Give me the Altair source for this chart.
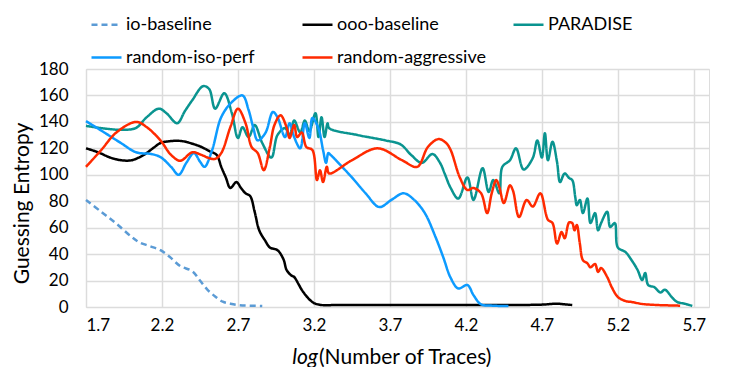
import altair as alt
import pandas as pd

series_names = ["io-baseline", "ooo-baseline", "PARADISE", "random-iso-perf", "random-aggressive"]
series_colors = ["#5b9bd5", "#000000", "#0a9490", "#0d9bff", "#ff2a00"]

io_x = [1.70, 1.80, 1.90, 2.00, 2.05, 2.12, 2.19, 2.25, 2.32, 2.40, 2.45, 2.50, 2.55, 2.60, 2.65, 2.71, 2.78, 2.86]
io_y = [81, 72, 63, 53, 49, 46, 43, 38, 31, 27, 20, 13, 8, 4, 2.5, 1.3, 1, 0.8]

ooo_x = [1.70, 1.78, 1.86, 1.93, 2.00, 2.08, 2.14, 2.19, 2.26, 2.33, 2.40, 2.46, 2.51, 2.56, 2.59, 2.62, 2.65,
         2.69, 2.72, 2.75, 2.78, 2.81, 2.84, 2.88, 2.91, 2.96, 3.00, 3.02, 3.05, 3.07, 3.10, 3.12, 3.16, 3.20,
         3.25, 3.35, 3.60, 3.90, 4.20, 4.50, 4.70, 4.80, 4.85, 4.90]
ooo_y = [120, 117, 113, 111, 111, 115, 120, 124, 125.5, 125.5, 123.5, 121, 118, 115, 106, 98, 90,
         94.5, 90, 86, 84, 72, 58, 50, 45, 43, 36, 28, 24, 22.7, 17, 13, 7, 3,
         1.5, 1.5, 1.5, 1.5, 1.5, 1.5, 1.8, 2.5, 2, 1.5]

par_x = [1.70, 1.82, 1.95, 2.03, 2.10, 2.18, 2.23, 2.30, 2.35, 2.40, 2.47, 2.51, 2.55, 2.61, 2.66, 2.70, 2.73,
         2.77, 2.81, 2.86, 2.92, 2.96, 3.01, 3.04, 3.07, 3.11, 3.14, 3.17, 3.21, 3.23, 3.25, 3.27, 3.29, 3.30,
         3.49, 3.67, 3.77, 3.84, 3.91, 3.98, 4.03, 4.06, 4.10, 4.15, 4.21, 4.25, 4.31, 4.35, 4.38, 4.42, 4.44,
         4.49, 4.53, 4.58, 4.64, 4.67, 4.70, 4.72, 4.74, 4.77, 4.80, 4.82, 4.85, 4.88, 4.90, 4.92, 4.93, 4.95,
         4.97, 5.00, 5.02, 5.05, 5.07, 5.09, 5.13, 5.15, 5.18, 5.20, 5.25, 5.29, 5.33, 5.36, 5.38, 5.40, 5.44,
         5.48, 5.51, 5.56, 5.59, 5.64, 5.69]
par_y = [137, 135, 134, 135.5, 143.6, 150, 146.5, 139, 148, 156.5, 167, 165, 150, 161.7, 146.6, 127.8, 136,
         128.5, 137.6, 124, 113, 130, 135.3, 130, 141, 132, 141, 133, 146.6, 128.5, 143.6, 128.5, 139, 135.3,
         130, 126, 123, 115, 109, 115.7, 109, 101, 90, 82, 98, 81, 105, 87, 96, 86, 106,
         111, 120, 104, 112.6, 126, 113, 131.5, 111, 125, 109.6, 94.5, 101, 97.5, 96, 83, 77, 81,
         71, 82, 63.5, 71, 58, 63.5, 72, 60.5, 63.5, 45, 41.6, 35.5, 28, 20.4, 25.7, 16.6, 15,
         11, 13, 6.8, 3.8, 2.5, 0.8]

iso_x = [1.70, 1.82, 1.93, 2.03, 2.13, 2.19, 2.26, 2.31, 2.36, 2.41, 2.45, 2.48, 2.53, 2.59, 2.66, 2.73, 2.77,
         2.80, 2.83, 2.88, 2.93, 2.96, 3.01, 3.04, 3.07, 3.11, 3.14, 3.17, 3.19, 3.23, 3.26, 3.28, 3.295, 3.31,
         3.45, 3.54, 3.63, 3.71, 3.79, 3.86, 3.93, 4.00, 4.05, 4.10, 4.15, 4.21, 4.25, 4.30, 4.38, 4.48]
iso_y = [140.6, 132, 124, 117, 115.7, 113.4, 106, 100, 109, 116.4, 110, 106, 118.7, 143.6, 155, 160, 149,
         136, 126, 131.5, 147.5, 143.6, 128.5, 139, 128.5, 120, 139, 127.8, 143, 135, 118.7, 109, 116.4, 115,
         98, 86, 75.6, 81, 86, 81, 71, 53, 38, 22, 14, 16.6, 9, 2, 1, 0.7]

agg_x = [1.70, 1.80, 1.90, 2.03, 2.10, 2.19, 2.26, 2.32, 2.40, 2.46, 2.51, 2.55, 2.59, 2.65, 2.70, 2.75, 2.79,
         2.83, 2.87, 2.91, 2.94, 2.98, 3.02, 3.04, 3.07, 3.09, 3.12, 3.15, 3.19, 3.22, 3.24, 3.26, 3.285, 3.30,
         3.45, 3.62, 3.78, 3.88, 3.95, 4.02, 4.07, 4.10, 4.16, 4.21, 4.25, 4.30, 4.34, 4.37, 4.40, 4.42, 4.45,
         4.49, 4.51, 4.55, 4.60, 4.64, 4.69, 4.74, 4.77, 4.80, 4.83, 4.85, 4.88, 4.90, 4.915, 4.93, 4.95,
         4.97, 5.00, 5.02, 5.05, 5.07, 5.09, 5.13, 5.16, 5.20, 5.25, 5.29, 5.36, 5.46, 5.61]
agg_y = [106, 118.7, 132, 140, 136, 126, 115, 110.6, 117, 115, 112.6, 112, 116.4, 136, 150, 139, 121,
         116.4, 103.5, 121, 137.6, 145, 136, 127.8, 137.6, 128.5, 132, 121, 118.7, 96, 103.5, 94.5, 106, 101,
         111, 120, 111, 106, 121, 127, 124, 118.7, 98, 88.5, 90, 86, 71, 86, 96, 90.7, 78.6,
         92, 88, 68, 81, 76, 86, 66, 63.5, 48, 56.7, 52, 64, 63.5, 58, 62, 48,
         35.5, 33, 30, 32.5, 26.5, 29.5, 22.7, 15, 7.6, 4.5, 3.8, 2.3, 1.5, 1]

x_ticks = [1.7, 2.2, 2.7, 3.2, 3.7, 4.2, 4.7, 5.2, 5.7]
y_ticks = [0, 20, 40, 60, 80, 100, 120, 140, 160, 180]

rows = []
for name, xs, ys in [("io-baseline", io_x, io_y), ("ooo-baseline", ooo_x, ooo_y),
                     ("PARADISE", par_x, par_y), ("random-iso-perf", iso_x, iso_y),
                     ("random-aggressive", agg_x, agg_y)]:
    for i, (a, b) in enumerate(zip(xs, ys)):
        rows.append({"series": name, "x": a, "y": b, "i": i})
df = pd.DataFrame(rows)

FONT = "Lato"

lines = alt.Chart(df).mark_line(strokeWidth=2.5, interpolate="catmull-rom").encode(
    x=alt.X("x:Q", scale=alt.Scale(domain=[1.7, 5.8], nice=False, zero=False),
            axis=alt.Axis(values=x_ticks, format=".1f", title=None, ticks=False, domain=False,
                          labelFontSize=17, labelPadding=10, labelColor="#000",
                          gridColor="#dcdcdc", gridWidth=1.5, labelFont=FONT)),
    y=alt.Y("y:Q", scale=alt.Scale(domain=[0, 180], nice=False),
            axis=alt.Axis(values=y_ticks, title="Guessing Entropy", ticks=False, domain=False,
                          labelFontSize=17, labelPadding=18, labelColor="#000", labelFont=FONT,
                          gridColor="#dcdcdc", gridWidth=1.5,
                          titleFontSize=21, titleFontWeight="normal", titleFont=FONT,
                          titleColor="#000", titleX=-64, titleY=134, titleAlign="center",
                          titleBaseline="middle", titleAngle=270)),
    color=alt.Color("series:N", scale=alt.Scale(domain=series_names, range=series_colors),
                    legend=alt.Legend(title=None, orient="none", legendX=4, legendY=-61,
                                      direction="horizontal", columns=3, symbolType="stroke",
                                      symbolSize=900, symbolStrokeWidth=2.5, labelFontSize=18,
                                      labelFont=FONT, labelColor="#000", labelOffset=3,
                                      gridAlign="all", columnPadding=22, rowPadding=7,
                                      labelLimit=300)),
    strokeDash=alt.StrokeDash("series:N", scale=alt.Scale(domain=series_names,
                                                          range=[[6, 4], [1, 0], [1, 0], [1, 0], [1, 0]]),
                              legend=None),
    order="i:Q",
)

t1 = alt.Chart(pd.DataFrame({"t": ["log"]})).mark_text(
    fontSize=21, font=FONT, fontStyle="italic", align="right", baseline="middle", color="#000"
).encode(text="t:N", x=alt.value(232), y=alt.value(289))
t2 = alt.Chart(pd.DataFrame({"t": ["(Number of Traces)"]})).mark_text(
    fontSize=21, font=FONT, align="left", baseline="middle", color="#000"
).encode(text="t:N", x=alt.value(233), y=alt.value(289))

chart = alt.layer(lines, t1, t2).properties(
    width=623, height=238,
    padding={"left": 78, "top": 61, "right": 20, "bottom": 60},
    autosize=alt.AutoSizeParams(type="none"),
).configure_view(stroke="#9a9a9a", strokeWidth=1.5).configure(background="white")

chart.save("out.html", embed_options={"renderer": "svg", "actions": False})
